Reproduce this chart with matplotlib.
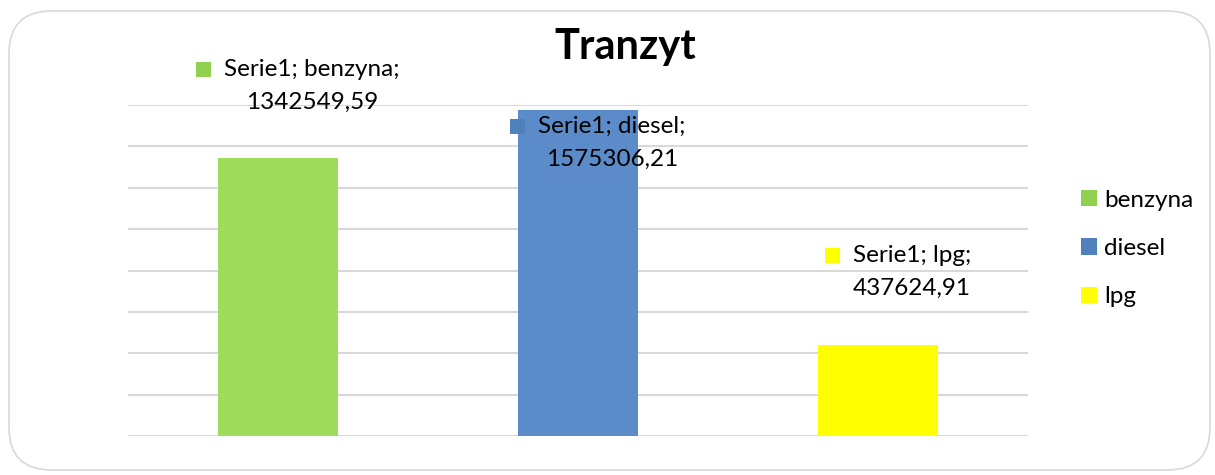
import matplotlib
matplotlib.use("Agg")
import matplotlib.pyplot as plt
from matplotlib.patches import FancyBboxPatch, Patch, Rectangle

# fuel sales, single series
categories = ["benzyna", "diesel", "lpg"]
values = [1342549.59, 1575306.21, 437624.91]
series_name = "Serie1"
title = "Tranzyt"

bar_colors = ["#A0DC5C", "#5B8CC9", "#FFFF00"]
key_colors = ["#92D050", "#4F81BD", "#FFFF00"]

plt.rcParams["font.family"] = ["Lato", "DejaVu Sans"]
FS = 17.5

W, H = 1215, 475
fig = plt.figure(figsize=(W / 100, H / 100), dpi=100)

# rounded frame around the whole chart, kept behind the axes
frame = FancyBboxPatch((9 / W, 5 / H), 1201 / W, 459 / H,
                       boxstyle="round,pad=0,rounding_size=0.035",
                       transform=fig.transFigure, facecolor="white",
                       edgecolor="#D9D9D9", linewidth=1.2,
                       mutation_aspect=W / H, zorder=-5)
fig.patches.append(frame)

ax = fig.add_axes([128 / W, (H - 436) / H, 900 / W, 331 / H])
ax.set_zorder(2)
ax.set_facecolor("none")
ax.set_xlim(-0.5, len(categories) - 0.5)
ax.set_ylim(0, 1600000)
ax.set_yticks(range(0, 1600001, 200000))
ax.yaxis.grid(True, color="#D9D9D9", linewidth=1.5)
ax.set_axisbelow(True)
ax.tick_params(left=False, bottom=False, labelleft=False, labelbottom=False)
for s in ax.spines.values():
    s.set_visible(False)

x = range(len(categories))
ax.bar(x, values, width=0.4, color=bar_colors, zorder=2)

fig.text(625 / W, (H - 47) / H, title, ha="center", va="center",
         fontsize=30, fontweight="bold", color="black")

# data labels: "series; category; value" with a colour key in front
label_dy = [72, -33, 73]
first_lines = []
for i, (cat, v) in enumerate(zip(categories, values)):
    dy = label_dy[i]
    t1 = ax.annotate(f"{series_name}; {cat};", xy=(i, v), xytext=(34, dy + 17),
                     textcoords="offset pixels", ha="center", va="center",
                     fontsize=FS, color="black", zorder=4, annotation_clip=False)
    ax.annotate(f"{v:.2f}".replace(".", ","), xy=(i, v), xytext=(34, dy - 16),
                textcoords="offset pixels", ha="center", va="center",
                fontsize=FS, color="black", zorder=4, annotation_clip=False)
    first_lines.append(t1)

fig.canvas.draw()
renderer = fig.canvas.get_renderer()
for t1, c in zip(first_lines, key_colors):
    bb = t1.get_window_extent(renderer)
    cy = (bb.y0 + bb.y1) / 2
    fig.patches.append(Rectangle(((bb.x0 - 28) / W, (cy - 7.5) / H), 15 / W, 15 / H,
                                 transform=fig.transFigure, facecolor=c,
                                 edgecolor="none", zorder=5))

handles = [Patch(facecolor=c, edgecolor="none") for c in key_colors]
fig.legend(handles, categories, loc="upper left",
           bbox_to_anchor=(1071 / W, (H - 180) / H), frameon=False,
           fontsize=FS, handlelength=0.65, handleheight=0.65,
           handletextpad=0.3, labelspacing=1.12, borderaxespad=0)

fig.savefig("out.png", dpi=100)
